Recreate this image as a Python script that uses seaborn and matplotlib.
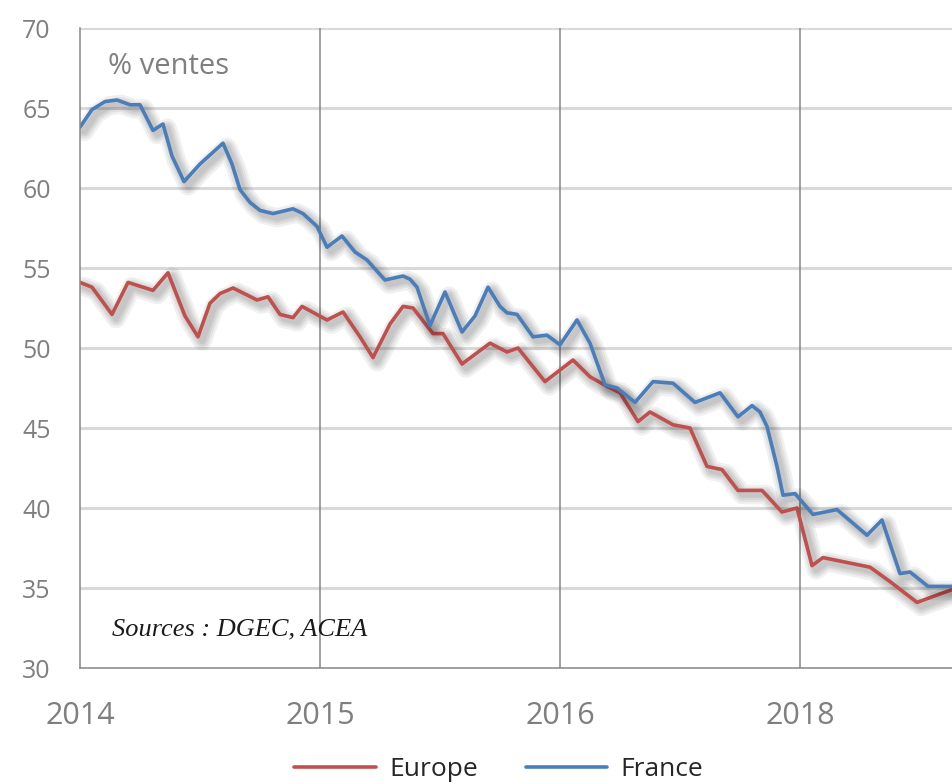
import numpy as np
import pandas as pd
import seaborn as sns
import matplotlib.pyplot as plt
import matplotlib.patheffects as pe

# months since Jan 2014 / share of diesel in sales (%)
france_month = [0.0, 0.6, 1.25, 1.85, 2.5, 3.0, 3.65, 4.15, 4.6, 5.2, 6.0, 7.15, 7.6, 8.0,
                8.5, 9.0, 9.65, 10.65, 11.15, 11.85, 12.35, 13.1, 13.75, 14.35, 15.25,
                16.15, 16.5, 16.85, 17.5, 18.25, 19.1, 19.75, 20.4, 21.0, 21.35, 21.85,
                22.65, 23.35, 24.0, 24.85, 25.5, 26.25, 26.85, 27.75, 28.65, 29.65,
                30.75, 32.0, 32.9, 33.6, 34.0, 34.35, 34.85, 35.15, 35.75, 36.65, 37.85,
                39.35, 40.1, 41.0, 41.5, 42.4, 43.6]
france_pct = [63.8, 64.9, 65.4, 65.5, 65.2, 65.2, 63.6, 64.0, 62.0, 60.4, 61.5, 62.8, 61.5,
              59.9, 59.1, 58.6, 58.4, 58.7, 58.4, 57.6, 56.3, 57.0, 56.0, 55.5, 54.25,
              54.5, 54.3, 53.8, 51.4, 53.5, 51.0, 52.0, 53.8, 52.6, 52.2, 52.1, 50.7,
              50.8, 50.2, 51.75, 50.3, 47.7, 47.5, 46.6, 47.9, 47.8, 46.6, 47.2, 45.7,
              46.4, 46.0, 45.1, 42.6, 40.8, 40.9, 39.6, 39.9, 38.3, 39.25, 35.9, 36.0,
              35.1, 35.1]

europe_month = [0.0, 0.6, 1.6, 2.4, 3.65, 4.4, 5.25, 5.9, 6.5, 7.0, 7.65, 8.85, 9.4, 10.0,
                10.65, 11.1, 12.35, 13.15, 14.0, 14.65, 15.5, 16.15, 16.65, 17.65, 18.15,
                19.1, 20.5, 21.35, 21.9, 23.25, 24.65, 25.5, 26.35, 27.0, 27.9, 28.5,
                29.65, 30.5, 31.35, 32.1, 32.9, 34.1, 35.1, 35.85, 36.6, 37.15, 39.5,
                40.5, 41.85, 43.6]
europe_pct = [54.1, 53.8, 52.1, 54.1, 53.6, 54.7, 52.0, 50.7, 52.8, 53.4, 53.75, 53.0, 53.2,
              52.1, 51.9, 52.6, 51.75, 52.25, 50.7, 49.4, 51.5, 52.6, 52.5, 50.9, 50.9,
              49.0, 50.3, 49.75, 50.0, 47.9, 49.25, 48.2, 47.6, 47.2, 45.4, 46.0, 45.2,
              45.0, 42.6, 42.4, 41.1, 41.1, 39.75, 40.0, 36.4, 36.9, 36.3, 35.4, 34.1,
              34.9]

tick_years = [2014, 2015, 2016, 2017]
tick_labels = ["2014", "2015", "2016", "2018"]

df = pd.concat([
    pd.DataFrame({"year": 2014 + np.array(europe_month) / 12, "pct": europe_pct, "zone": "Europe"}),
    pd.DataFrame({"year": 2014 + np.array(france_month) / 12, "pct": france_pct, "zone": "France"}),
])

sns.set_theme(style="white")
plt.rcParams['font.family'] = ['Open Sans', 'DejaVu Sans']

fig = plt.figure(figsize=(9.52, 7.82), dpi=100)
ax = fig.add_axes([80 / 952, 1 - 668 / 782, 1 - 80 / 952, 640 / 782])

sns.lineplot(data=df, x="year", y="pct", hue="zone", estimator=None, sort=False,
             palette={"Europe": "#c0504d", "France": "#4a7ebb"}, linewidth=2.6, ax=ax,
             legend=False)

# soft grey shadow, like the Excel effect
shadow = [pe.SimpleLineShadow(offset=(3, -3), shadow_color="#000000", alpha=0.06, linewidth=w)
          for w in (14, 10.5, 7.5, 4.5)] + [pe.Normal()]
for ln in ax.lines:
    ln.set_solid_capstyle("round")
    ln.set_solid_joinstyle("round")
    ln.set_path_effects(shadow)

ax.set_xlim(2014, 2014 + 43.6 / 12)
ax.set_ylim(30, 70)
ax.set_yticks(range(30, 71, 5))
ax.set_xticks(tick_years)
ax.set_xticklabels(tick_labels)
ax.set_xlabel("")
ax.set_ylabel("")

for y in range(35, 71, 5):
    ax.axhline(y, color="#d9d9d9", linewidth=2.2, zorder=0)
for x in tick_years[1:]:
    ax.axvline(x, color="#868686", linewidth=1.1, zorder=0.5)

for s in ["top", "right"]:
    ax.spines[s].set_visible(False)
for s in ["left", "bottom"]:
    ax.spines[s].set_color("#868686")
    ax.spines[s].set_linewidth(1.1)

ax.tick_params(axis="y", length=0, pad=21, labelsize=18, labelcolor="#7f7f7f")
ax.tick_params(axis="x", length=0, pad=24, labelsize=22, labelcolor="#7f7f7f")

ax.text(0.032, 0.94, "% ventes", transform=ax.transAxes, fontsize=21, color="#7f7f7f",
        ha="left", va="center")
ax.text(0.037, 0.06, "Sources : DGEC, ACEA", transform=ax.transAxes, fontsize=19,
        family="Liberation Serif", style="italic", color="#1a1a1a", ha="left", va="center")

handles = [plt.Line2D([], [], color="#c0504d", linewidth=2.6),
           plt.Line2D([], [], color="#4a7ebb", linewidth=2.6)]
fig.legend(handles, ["Europe", "France"], loc="lower center", bbox_to_anchor=(0.524, -0.031),
           ncol=2, frameon=False, fontsize=19, handlelength=3.1, handletextpad=0.5,
           columnspacing=1.8, labelcolor="#262626")

fig.savefig("out.png", dpi=100)
